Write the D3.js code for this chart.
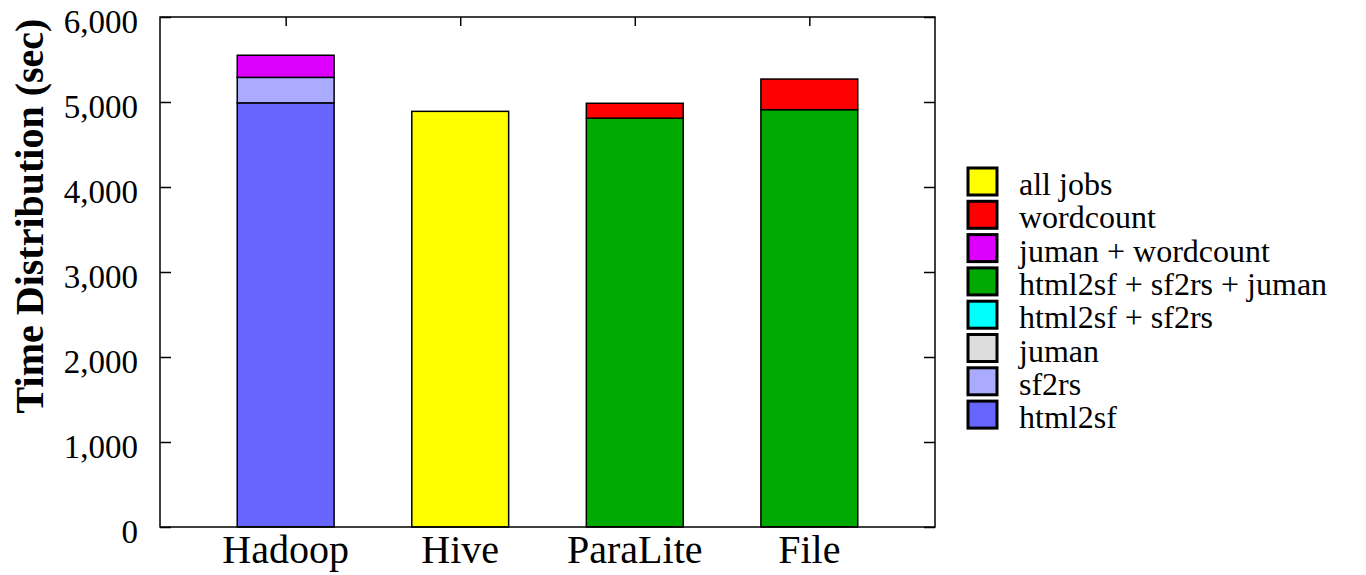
<!DOCTYPE html>
<html>
<head>
<meta charset="utf-8">
<script src="https://cdn.jsdelivr.net/npm/d3@7"></script>
<style>
    body { margin: 0; background: #fff; }
    text { font-family: "Liberation Serif", "DejaVu Serif", serif; fill: #000; }
</style>
</head>
<body>
<div id="chart"></div>
<script>
// values, seconds
let categories = ["Hadoop", "Hive", "ParaLite", "File"];
let html2sf = [4990, 0, 0, 0];
let sf2rs = [300, 0, 0, 0];
let juman = [0, 0, 0, 0];
let html2sfSf2rs = [0, 0, 0, 0];
let html2sfSf2rsJuman = [0, 0, 4810, 4910];
let jumanWordcount = [260, 0, 0, 0];
let wordcount = [0, 0, 175, 360];
let allJobs = [0, 4890, 0, 0];
let yTicks = [0, 1000, 2000, 3000, 4000, 5000, 6000];

// stacked bottom to top
let series = [
    {key: "html2sf", label: "html2sf", values: html2sf, color: "#6666ff"},
    {key: "sf2rs", label: "sf2rs", values: sf2rs, color: "#aaaaff"},
    {key: "juman", label: "juman", values: juman, color: "#dddddd"},
    {key: "hs", label: "html2sf + sf2rs", values: html2sfSf2rs, color: "#00ffff"},
    {key: "hsj", label: "html2sf + sf2rs + juman", values: html2sfSf2rsJuman, color: "#00aa00"},
    {key: "jw", label: "juman + wordcount", values: jumanWordcount, color: "#dd00ff"},
    {key: "wc", label: "wordcount", values: wordcount, color: "#ff0000"},
    {key: "all", label: "all jobs", values: allJobs, color: "#ffff00"}
];

let W = 1366, H = 575;
let margin = {top: 17, right: 431, bottom: 48, left: 160};
let width = W - margin.left - margin.right;
let height = H - margin.top - margin.bottom;

let svg = d3.select("#chart").append("svg")
        .attr("width", W)
        .attr("height", H);

let g = svg.append("g")
        .attr("transform", "translate(" + margin.left + "," + margin.top + ")");

let table = categories.map(function(c, i) {
    let row = {category: c};
    series.forEach(function(s) { row[s.key] = s.values[i]; });
    return row;
});

let stacked = d3.stack().keys(series.map(s => s.key))(table);

let xScale = d3.scalePoint()
        .domain(categories)
        .range([0, width])
        .padding(0.72);

let barWidth = xScale.step() * 0.555;

let yScale = d3.scaleLinear()
        .domain([0, 6000])
        .range([height, 0]);

let fmt = d3.format(",");

// ticks, inward on all four sides
g.append("g")
    .call(d3.axisLeft(yScale).tickValues(yTicks).tickSize(-11).tickFormat(""))
    .call(a => a.select(".domain").remove());
g.append("g")
    .attr("transform", "translate(" + width + ",0)")
    .call(d3.axisRight(yScale).tickValues(yTicks).tickSize(-11).tickFormat(""))
    .call(a => a.select(".domain").remove());
g.append("g")
    .call(d3.axisTop(xScale).tickSize(-9).tickFormat(""))
    .call(a => a.select(".domain").remove());
g.append("g")
    .attr("transform", "translate(0," + height + ")")
    .call(d3.axisBottom(xScale).tickSize(-9).tickFormat(""))
    .call(a => a.select(".domain").remove());
g.selectAll(".tick line").attr("stroke", "#000").attr("stroke-width", 1.5);

// bars
let colorOf = {};
series.forEach(s => colorOf[s.key] = s.color);

g.selectAll("g.layer")
    .data(stacked)
    .enter().append("g")
    .attr("class", "layer")
    .attr("fill", d => colorOf[d.key])
    .selectAll("rect")
    .data(d => d.filter(p => p[1] - p[0] > 0))
    .enter().append("rect")
    .attr("x", d => xScale(d.data.category) - barWidth / 2)
    .attr("y", d => yScale(d[1]))
    .attr("width", barWidth)
    .attr("height", d => yScale(d[0]) - yScale(d[1]))
    .attr("stroke", "#000")
    .attr("stroke-width", 1.5);

// frame
g.append("rect")
    .attr("width", width)
    .attr("height", height)
    .attr("fill", "none")
    .attr("stroke", "#000")
    .attr("stroke-width", 1.5);

// tick labels
g.selectAll("text.ylab")
    .data(yTicks)
    .enter().append("text")
    .attr("class", "ylab")
    .attr("x", -22)
    .attr("y", d => yScale(d) + 16)
    .attr("text-anchor", "end")
    .style("font-size", "33px")
    .text(d => fmt(d));

g.selectAll("text.xlab")
    .data(categories)
    .enter().append("text")
    .attr("class", "xlab")
    .attr("x", d => xScale(d))
    .attr("y", height + 36)
    .attr("text-anchor", "middle")
    .style("font-size", "40px")
    .text(d => d);

svg.append("text")
    .attr("transform", "translate(43," + (margin.top + 199) + ") rotate(-90)")
    .attr("text-anchor", "middle")
    .style("font-size", "40px")
    .style("font-weight", "bold")
    .text("Time Distribution (sec)");

// legend, top row is the last stacked series
let legend = svg.append("g")
        .attr("transform", "translate(968,168)");

let items = legend.selectAll("g")
        .data(series.slice().reverse())
        .enter().append("g")
        .attr("transform", (d, i) => "translate(0," + (i * 33.3) + ")");

items.append("rect")
    .attr("width", 29)
    .attr("height", 27)
    .attr("fill", d => d.color)
    .attr("stroke", "#000")
    .attr("stroke-width", 3);

items.append("text")
    .attr("x", 51)
    .attr("y", 27)
    .style("font-size", "32px")
    .text(d => d.label);
</script>
</body>
</html>
